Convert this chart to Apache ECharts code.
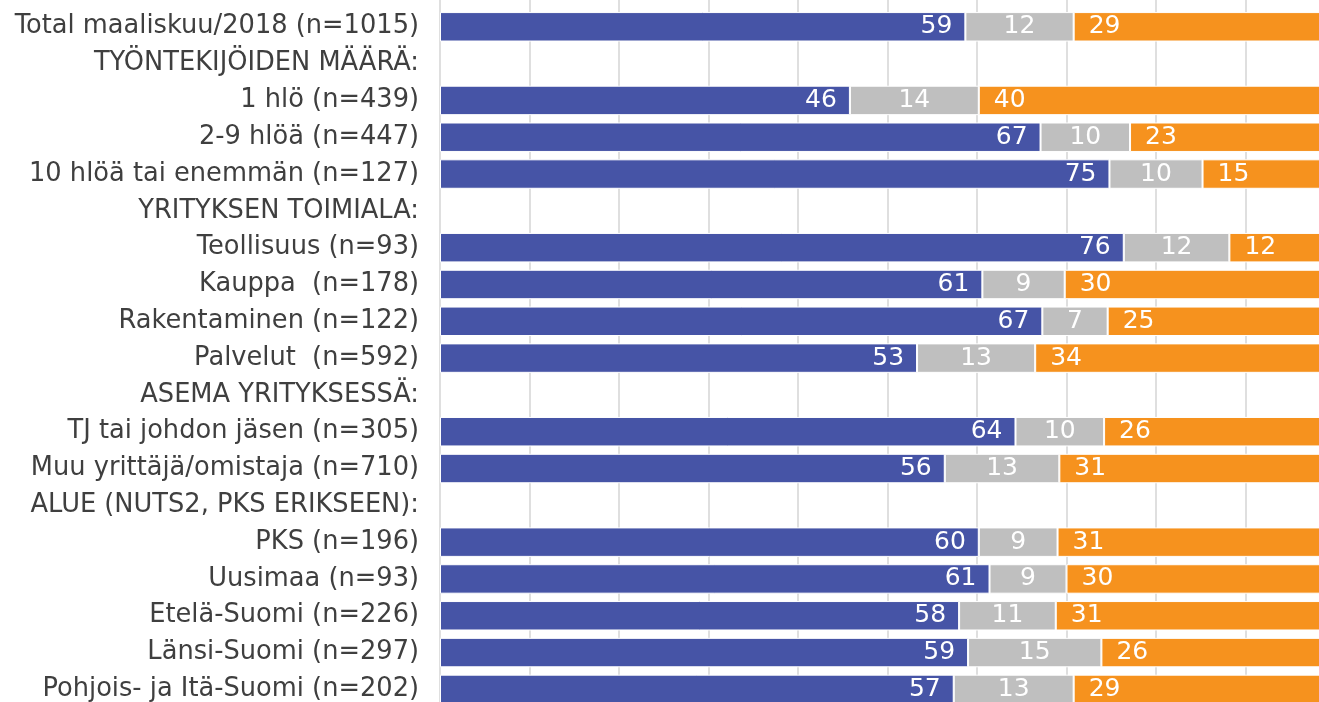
<!DOCTYPE html>
<html>
<head>
<meta charset="utf-8">
<script src="https://cdn.jsdelivr.net/npm/echarts@6/dist/echarts.min.js"></script>
<style>
html,body{margin:0;padding:0;overflow:hidden;background:#fff;}
#c{width:1340px;height:720px;}
</style>
</head>
<body>
<div id="c"></div>
<script>
const categories = [
  "Total maaliskuu/2018 (n=1015)",
  "TYÖNTEKIJÖIDEN MÄÄRÄ:",
  "1 hlö (n=439)",
  "2-9 hlöä (n=447)",
  "10 hlöä tai enemmän (n=127)",
  "YRITYKSEN TOIMIALA:",
  "Teollisuus (n=93)",
  "Kauppa  (n=178)",
  "Rakentaminen (n=122)",
  "Palvelut  (n=592)",
  "ASEMA YRITYKSESSÄ:",
  "TJ tai johdon jäsen (n=305)",
  "Muu yrittäjä/omistaja (n=710)",
  "ALUE (NUTS2, PKS ERIKSEEN):",
  "PKS (n=196)",
  "Uusimaa (n=93)",
  "Etelä-Suomi (n=226)",
  "Länsi-Suomi (n=297)",
  "Pohjois- ja Itä-Suomi (n=202)"
];
// percentages (labels show rounded values)
const blueValues   = [58.7, null, 45.8, 67.1, 74.8, null, 76.4, 60.6, 67.3, 53.3, null, 64.3, 56.4, null, 60.2, 61.4, 58.0, 59.0, 57.4];
const grayValues   = [12.1, null, 14.4, 10.0, 10.4, null, 11.8,  9.2,  7.3, 13.2, null,  9.9, 12.8, null,  8.8,  8.6, 10.8, 14.9, 13.4];
const orangeValues = [29.2, null, 39.8, 22.9, 14.8, null, 11.8, 30.2, 25.4, 33.6, null, 25.8, 30.8, null, 31.0, 30.0, 31.2, 26.1, 29.2];
const xTicks = [0, 100, 10];

const FONT = "DejaVu Sans";
const chart = echarts.init(document.getElementById('c'), null, {renderer: 'canvas'});

function mkSeries(name, data, color, pos, dist) {
  return {
    name: name, type: 'bar', stack: 'all', data: data,
    xAxisIndex: 0, yAxisIndex: 0,
    barCategoryGap: '20%',
    itemStyle: {color: color, borderColor: '#ffffff', borderWidth: 1},
    label: {
      show: true, position: pos, distance: dist,
      color: '#ffffff', fontFamily: FONT, fontSize: 25,
      formatter: p => (p.value == null ? '' : String(Math.round(p.value)))
    },
    emphasis: {disabled: true},
    animation: false
  };
}

chart.setOption({
  animation: false,
  grid: [
    {left: 440, top: 8.4, width: 895, height: 699.4, containLabel: false},
    {left: 440, top: 0, width: 895, height: 720, containLabel: false}
  ],
  xAxis: [
    {type: 'value', gridIndex: 0, min: xTicks[0], max: xTicks[1], interval: xTicks[2], show: false},
    {type: 'value', gridIndex: 1, min: xTicks[0], max: xTicks[1], interval: xTicks[2],
      axisLine: {show: false}, axisTick: {show: false}, axisLabel: {show: false},
      splitLine: {show: true, lineStyle: {color: '#D4D4D4', width: 1.5}}}
  ],
  yAxis: [
    {type: 'category', gridIndex: 0, data: categories, inverse: true,
      axisLine: {show: false}, axisTick: {show: false},
      axisLabel: {margin: 21, color: '#3F3F3F', fontFamily: FONT, fontSize: 25.7, interval: 0},
      splitLine: {show: false}},
    {type: 'value', gridIndex: 1, min: 0, max: 1, show: false}
  ],
  series: [
    mkSeries('A', blueValues, '#4654A6', 'insideRight', 13),
    mkSeries('B', grayValues, '#BFBFBF', 'inside', 0),
    mkSeries('C', orangeValues, '#F6921E', 'insideLeft', 15)
  ]
});
</script>
</body>
</html>
